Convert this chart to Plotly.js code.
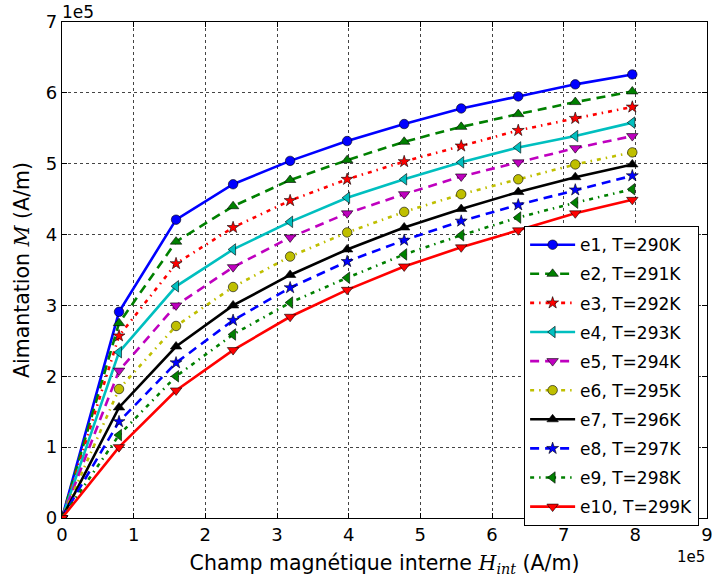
<!DOCTYPE html>
<html>
<head>
<meta charset="utf-8">
<script src="https://cdn.plot.ly/plotly-3.0.1.min.js"></script>
<style>html,body{margin:0;padding:0;background:#fff;}#chart{width:712px;height:585px;}</style>
</head>
<body>
<div id="chart"></div>
<script>
// Internal magnetic field H_int (A/m)
var H = [0, 79577, 159155, 238732, 318310, 397887, 477465, 557042, 636620, 716197, 795775];

// Magnetization M (A/m) for each sample
var e1  = [0, 2.91e5, 4.21e5, 4.71e5, 5.04e5, 5.32e5, 5.56e5, 5.78e5, 5.95e5, 6.12e5, 6.26e5];
var e2  = [0, 2.75e5, 3.90e5, 4.40e5, 4.77e5, 5.05e5, 5.31e5, 5.52e5, 5.70e5, 5.87e5, 6.02e5];
var e3  = [0, 2.57e5, 3.59e5, 4.10e5, 4.48e5, 4.78e5, 5.03e5, 5.25e5, 5.47e5, 5.64e5, 5.80e5];
var e4  = [0, 2.34e5, 3.27e5, 3.79e5, 4.18e5, 4.52e5, 4.78e5, 5.02e5, 5.23e5, 5.39e5, 5.58e5];
var e5  = [0, 2.08e5, 3.00e5, 3.54e5, 3.96e5, 4.30e5, 4.57e5, 4.82e5, 5.02e5, 5.22e5, 5.39e5];
var e6  = [0, 1.82e5, 2.71e5, 3.26e5, 3.69e5, 4.03e5, 4.32e5, 4.57e5, 4.78e5, 4.99e5, 5.16e5];
var e7  = [0, 1.56e5, 2.42e5, 3.00e5, 3.43e5, 3.79e5, 4.10e5, 4.36e5, 4.60e5, 4.81e5, 4.99e5];
var e8  = [0, 1.36e5, 2.19e5, 2.79e5, 3.25e5, 3.62e5, 3.92e5, 4.19e5, 4.42e5, 4.63e5, 4.83e5];
var e9  = [0, 1.17e5, 2.00e5, 2.59e5, 3.04e5, 3.39e5, 3.72e5, 3.99e5, 4.24e5, 4.45e5, 4.64e5];
var e10 = [0, 1.00e5, 1.80e5, 2.37e5, 2.84e5, 3.22e5, 3.55e5, 3.82e5, 4.06e5, 4.30e5, 4.49e5];

var seriesNames = ["e1, T=290K", "e2, T=291K", "e3, T=292K", "e4, T=293K", "e5, T=294K",
                   "e6, T=295K", "e7, T=296K", "e8, T=297K", "e9, T=298K", "e10, T=299K"];
var seriesValues = [e1, e2, e3, e4, e5, e6, e7, e8, e9, e10];

// Tick labels (scaled by 1e5)
var xTickVals = [0, 1e5, 2e5, 3e5, 4e5, 5e5, 6e5, 7e5, 8e5, 9e5];
var xTickText = ["0", "1", "2", "3", "4", "5", "6", "7", "8", "9"];
var yTickVals = [0, 1e5, 2e5, 3e5, 4e5, 5e5, 6e5, 7e5];
var yTickText = ["0", "1", "2", "3", "4", "5", "6", "7"];

// Styles
var colors  = ["#0000ff", "#008000", "#ff0000", "#00bfbf", "#bf00bf", "#bfbf00", "#000000", "#0000ff", "#008000", "#ff0000"];
var symbols = ["circle", "triangle-up", "star", "triangle-left", "triangle-down", "circle", "triangle-up", "star", "triangle-left", "triangle-down"];
var dashes  = ["solid", "9px,6px", "4px,5px,1.5px,5px", "solid", "9px,6px", "4px,5px,1.5px,5px", "solid", "9px,6px", "4px,5px,1.5px,5px", "solid"];
var sizes   = [9.5, 10, 9, 10, 10, 9.5, 10, 9, 10, 10];

var traces = seriesValues.map(function (vals, i) {
  return {
    x: H, y: vals, name: seriesNames[i], type: "scatter", mode: "lines+markers",
    legendgroup: "g" + i,
    line: {color: colors[i], width: 2.6, dash: dashes[i]},
    marker: {symbol: symbols[i], size: sizes[i], color: colors[i], line: {color: "#000", width: 0.6}}
  };
});

var F = "DejaVu Sans, sans-serif";
var layout = {
  width: 712, height: 585,
  margin: {l: 62, r: 5, t: 22, b: 67},
  paper_bgcolor: "#fff", plot_bgcolor: "#fff",
  font: {family: F, color: "#000", size: 18},
  showlegend: true,
  legend: {
    x: 0.716, y: 0.589, xanchor: "left", yanchor: "top",
    bgcolor: "#fff", bordercolor: "#000", borderwidth: 1.3,
    font: {family: F, size: 17, color: "#000"},
    tracegroupgap: 4, itemwidth: 45
  },
  xaxis: {
    range: [0, 9e5], tickvals: xTickVals, ticktext: xTickText,
    ticks: "inside", ticklen: 5, tickcolor: "#000", mirror: "ticks",
    showline: true, linecolor: "#000", linewidth: 1.3,
    showgrid: true, gridcolor: "#444", griddash: "dot", gridwidth: 1,
    zeroline: false, tickfont: {family: F, size: 18}, ticklabeloverflow: "allow",
    title: {text: "Champ magnétique interne <span style=\"font-family:'DejaVu Serif'\"><i>H</i><sub><i>int</i></sub></span> (A/m)", font: {family: F, size: 20.5}, standoff: 11}
  },
  yaxis: {
    range: [0, 7e5], tickvals: yTickVals, ticktext: yTickText,
    ticks: "inside", ticklen: 5, tickcolor: "#000", mirror: "ticks",
    showline: true, linecolor: "#000", linewidth: 1.3,
    showgrid: true, gridcolor: "#444", griddash: "dot", gridwidth: 1,
    zeroline: false, tickfont: {family: F, size: 18}, ticklabeloverflow: "allow",
    title: {text: "Aimantation <span style=\"font-family:'DejaVu Serif'\"><i>M</i></span> (A/m)", font: {family: F, size: 20.5}, standoff: 10}
  },
  annotations: [
    {text: "1e5", xref: "paper", yref: "paper", x: 0, y: 1, xanchor: "left", yanchor: "bottom",
     showarrow: false, font: {family: F, size: 17}, xshift: -2, yshift: -2},
    {text: "1e5", xref: "paper", yref: "paper", x: 1, y: 0, xanchor: "right", yanchor: "top",
     showarrow: false, font: {family: F, size: 15}, yshift: -28}
  ]
};

Plotly.newPlot("chart", traces, layout, {displayModeBar: false, staticPlot: true});
</script>
</body>
</html>
